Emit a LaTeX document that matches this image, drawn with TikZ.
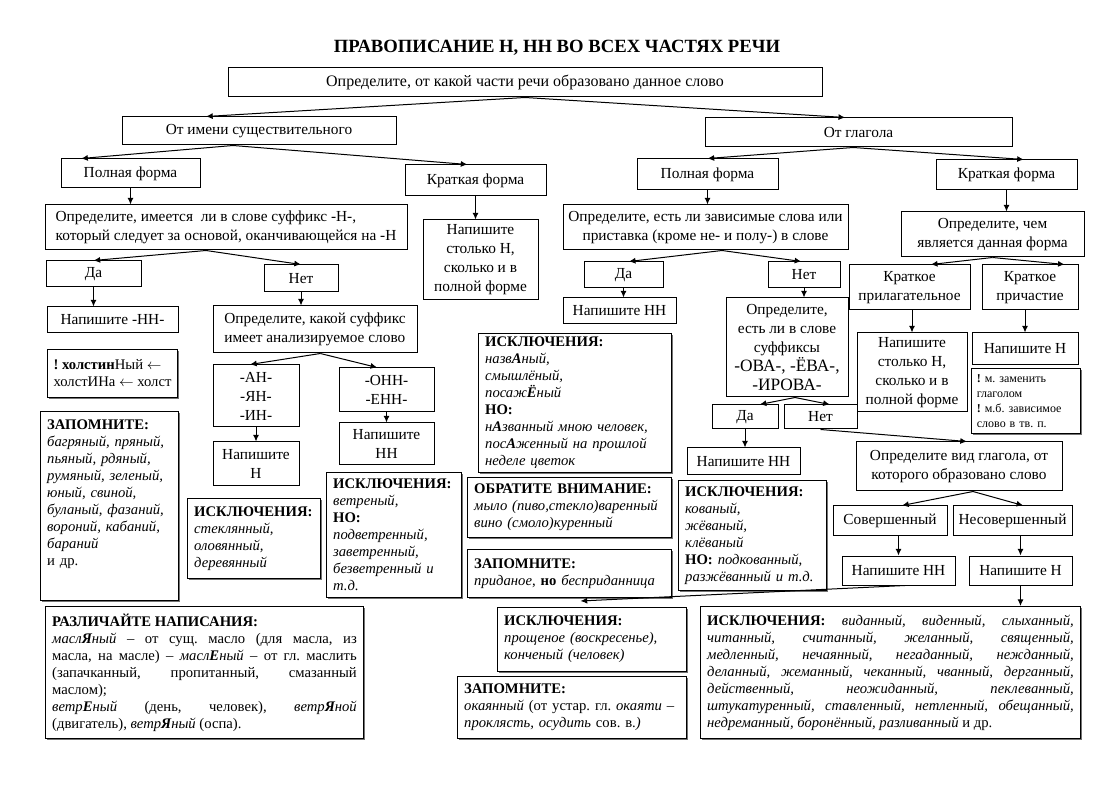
\documentclass[tikz,border=0pt]{standalone}
\usepackage{fontspec}
\setmainfont{Liberation Serif}
\usetikzlibrary{arrows.meta,shadows}
\newcommand{\flowfont}{\fontsize{11.5}{14.25}\selectfont}
\newcommand{\notefont}{\fontsize{11}{12.75}\selectfont}
\newcommand{\tinynote}{\fontsize{9}{11.25}\selectfont}

\begin{document}
\frenchspacing
\begin{tikzpicture}[x=0.75pt,y=-0.75pt,
    box/.style={draw, line width=0.75pt, inner sep=2pt, align=center, font=\flowfont},
    note/.style={draw, fill=white, line width=0.75pt, anchor=north west, align=left,
        inner xsep=5pt, inner ysep=2pt, font=\notefont,
        drop shadow={shadow xshift=1pt, shadow yshift=-1pt, fill=black!55, opacity=1}},
    arr/.style={-{Latex[length=5pt,width=4.5pt]}, line width=0.75pt}]
    \useasboundingbox (0,0) rectangle (1118,791);

    \node (0) at (557,48) {\fontsize{14}{16}\selectfont\bfseries ПРАВОПИСАНИЕ Н, НН ВО ВСЕХ ЧАСТЯХ РЕЧИ};
    \node[box, font=\fontsize{12}{14.25}\selectfont, minimum width=445.5pt, minimum height=21.75pt] (1) at (525,82.5) {Определите, от какой части речи образовано данное слово};
    \node[box, minimum width=205.5pt, minimum height=21pt] (2) at (259,131) {От имени существительного};
    \node[box, minimum width=230.25pt, minimum height=21.75pt] (3) at (858.5,132.5) {От глагола};

    % имя существительное
    \node[box, minimum width=104.25pt, minimum height=21.75pt] (4) at (130.5,173.5) {Полная форма};
    \node[box, minimum width=105.75pt, minimum height=23.25pt] (5) at (475.5,180.5) {Краткая форма};
    \node[box, align=left, minimum width=271.5pt, minimum height=33.75pt] (6) at (226,227.5) {Определите, имеется\ \ ли в слове суффикс -Н-,\\который следует за основой, оканчивающейся на -Н};
    \node[box, minimum width=86.25pt, minimum height=60pt] (7) at (480.5,260) {Напишите\\столько Н,\\сколько и в\\полной форме};
    \node[box, minimum width=71.25pt, minimum height=19.5pt] (8) at (93.5,274) {Да};
    \node[box, minimum width=55.5pt, minimum height=20.25pt] (9) at (301,278.5) {Нет};
    \node[box, minimum width=98.25pt, minimum height=19.5pt] (10) at (112.5,320) {Напишите -НН-};
    \node[box, align=left, minimum width=153pt, minimum height=35.25pt] (11) at (315,329.5) {Определите, какой суффикс\\имеет анализируемое слово};
    \node[note, inner xsep=3pt, minimum width=97.5pt, minimum height=36pt] (12) at (47,349) {\textbf{! холстин}Ный $\leftarrow$\\холстИНа $\leftarrow$ холст};
    \node[box, minimum width=64.5pt, minimum height=46.5pt] (13) at (256,396) {-АН-\\-ЯН-\\-ИН-};
    \node[box, minimum width=71.25pt, minimum height=33pt] (14) at (386.5,390) {-ОНН-\\-ЕНН-};
    \node[box, minimum width=64.5pt, minimum height=33pt] (15) at (256,464) {Напишите\\Н};
    \node[box, minimum width=71.25pt, minimum height=31.5pt] (16) at (386.5,444) {Напишите\\НН};
    \node[note, text width=93.5pt, minimum height=141.75pt] (17) at (40,411) {\textbf{ЗАПОМНИТЕ:}\\\itshape багряный, пряный,\\пьяный, рдяный,\\румяный, зеленый,\\юный, свиной,\\буланый, фазаний,\\вороний, кабаний,\\бараний\\\upshape и др.\\[7pt]\mbox{}};
    \node[note, text width=89.75pt, minimum height=60pt] (18) at (187,498) {\textbf{ИСКЛЮЧЕНИЯ:}\\\itshape стеклянный,\\оловянный,\\деревянный};
    \node[note, text width=91.25pt, minimum height=93.75pt] (19) at (326,472) {\textbf{ИСКЛЮЧЕНИЯ:}\\\textit{ветреный,}\\\textbf{НО:}\\\itshape подветренный,\\заветренный,\\безветренный и\\т.д.};
    \node[note, align=justify, text width=228.5pt, minimum height=99pt] (20) at (45,606) {\textbf{РАЗЛИЧАЙТЕ НАПИСАНИЯ:}\\\textit{масл\textbf{Я}ный} – от сущ. масло (для масла, из\linebreak масла, на масле) – \textit{масл\textbf{Е}ный} – от гл. маслить\linebreak (запачканный, пропитанный, смазанный\linebreak маслом);\\\textit{ветр\textbf{Е}ный} (день, человек), \textit{ветр\textbf{Я}ной}\linebreak (двигатель), \textit{ветр\textbf{Я}ный} (оспа).};

    % глагол
    \node[box, minimum width=105.75pt, minimum height=23.25pt] (21) at (707.5,174.5) {Полная форма};
    \node[box, minimum width=105.75pt, minimum height=22.5pt] (22) at (1006.5,175) {Краткая форма};
    \node[box, minimum width=213.75pt, minimum height=33.75pt] (23) at (705.5,227.5) {Определите, есть ли зависимые слова или\\приставка (кроме не- и полу-) в слове};
    \node[box, minimum width=137.25pt, minimum height=33.75pt] (24) at (992.5,234.5) {Определите, чем\\является данная форма};
    \node[box, minimum width=59.25pt, minimum height=19.5pt] (25) at (623.5,275) {Да};
    \node[box, minimum width=54pt, minimum height=19.5pt] (26) at (804,275) {Нет};
    \node[box, minimum width=90.75pt, minimum height=33.75pt] (27) at (909.5,287.5) {Краткое\\прилагательное};
    \node[box, minimum width=72pt, minimum height=33.75pt] (28) at (1030,287.5) {Краткое\\причастие};
    \node[box, minimum width=84.75pt, minimum height=19.5pt] (29) at (619.5,311) {Напишите НН};
    \node[box, minimum width=91.5pt, minimum height=74.25pt] (30) at (787,347.5) {Определите,\\есть ли в слове\\суффиксы\\{\fontsize{13}{14.5}\selectfont -ОВА-, -ЁВА-,}\\{\fontsize{13}{14.5}\selectfont -ИРОВА-}};
    \node[box, minimum width=82.5pt, minimum height=59.25pt] (31) at (912,372.5) {Напишите\\столько Н,\\сколько и в\\полной форме};
    \node[box, minimum width=79.5pt, minimum height=24pt] (32) at (1025,349) {Напишите Н};
    \node[note, font=\tinynote, inner xsep=4pt, text width=73.75pt, minimum height=48.75pt] (33) at (971,368) {\textbf{!} м. заменить\\глаголом\\\textbf{!} м.б. зависимое\\слово в тв. п.};
    \node[box, minimum width=49.5pt, minimum height=18pt] (34) at (745,417) {Да};
    \node[box, minimum width=54.75pt, minimum height=18pt] (35) at (820.5,417) {Нет};
    \node[box, minimum width=84.75pt, minimum height=20.25pt] (36) at (743.5,461.5) {Напишите НН};
    \node[box, minimum width=154.5pt, minimum height=36.75pt] (37) at (959,466.5) {Определите вид глагола, от\\которого образовано слово};
    \node[note, text width=134.75pt, minimum height=104.25pt] (38) at (478,333) {\textbf{ИСКЛЮЧЕНИЯ:}\\\textit{назв\textbf{А}ный,}\\\textit{смышлёный,}\\\textit{посаж\textbf{Ё}ный}\\\textbf{НО:}\\\textit{н\textbf{А}званный мною человек,}\\\textit{пос\textbf{А}женный на прошлой}\\\textit{неделе цветок}};
    \node[note, text width=143pt, minimum height=45pt] (39) at (467,477) {\textbf{ОБРАТИТЕ ВНИМАНИЕ:}\\\itshape мыло (пиво,стекло)варенный\\вино (смоло)куренный};
    \node[note, text width=143pt, minimum height=36pt] (40) at (467,549) {\textbf{ЗАПОМНИТЕ:}\\\textit{приданое}, \textbf{но} \textit{бесприданница}};
    \node[note, text width=101pt, minimum height=82.5pt] (41) at (678,480) {\textbf{ИСКЛЮЧЕНИЯ:}\\\textit{кованый,}\\\textit{жёваный,}\\\textit{клёваный}\\\textbf{НО:} \textit{подкованный,}\\\textit{разжёванный и т.д.}};
    \node[box, minimum width=85.5pt, minimum height=22.5pt] (42) at (890,521) {Совершенный};
    \node[box, minimum width=89.25pt, minimum height=22.5pt] (43) at (1012.5,521) {Несовершенный};
    \node[box, minimum width=84.75pt, minimum height=21.75pt] (44) at (898.5,570.5) {Напишите НН};
    \node[box, minimum width=77.25pt, minimum height=21.75pt] (45) at (1020.5,570.5) {Напишите Н};
    \node[note, text width=131.75pt, minimum height=48pt] (46) at (497,607) {\textbf{ИСКЛЮЧЕНИЯ:}\\\itshape прощеное (воскресенье),\\конченый (человек)};
    \node[note, text width=161.75pt, minimum height=46.5pt] (47) at (457,676) {\textbf{ЗАПОМНИТЕ:}\\\textit{окаянный} (от устар. гл. \textit{окаяти –}\\\textit{проклясть, осудить} сов. в.\textit{)}};
    \node[note, align=justify, text width=275pt, minimum height=99pt] (48) at (700,606) {\textbf{ИСКЛЮЧЕНИЯ:} \textit{виданный, виденный, слыханный,}\linebreak \textit{читанный, считанный, желанный, священный,}\linebreak \textit{медленный, нечаянный, негаданный, нежданный,}\linebreak \textit{деланный, жеманный, чеканный, чванный, дерганный,}\linebreak \textit{действенный, неожиданный, пеклеванный,}\linebreak \textit{штукатуренный, ставленный, нетленный, обещанный,}\linebreak \textit{недреманный, боронённый, разливанный} и др.};

    \path[arr]
	(1.south) edge ([xshift=-39.75pt]2.north)
	(1.south) edge ([xshift=-10pt]3.north)
	([xshift=-19.5pt]2.south) edge ([xshift=-37pt]4.north)
	([xshift=-19.5pt]2.south) edge ([xshift=-6pt]5.north)
	(4.south) edge (4.south |- 6.north)
	(5.south) edge (5.south |- 7.north)
	([xshift=-15pt]6.south) edge (8.north)
	([xshift=-15pt]6.south) edge (9.north)
	(8.south) edge (8.south |- 10.north)
	(9.south) edge (9.south |- 11.north)
	([xshift=4pt]11.south) edge ([xshift=-4.5pt]13.north)
	([xshift=4pt]11.south) edge ([xshift=-7pt]14.north)
	(13.south) edge (15.north)
	(14.south) edge (16.north)
	([xshift=-4pt]3.south) edge (21.north)
	([xshift=-4pt]3.south) edge ([xshift=13pt]22.north)
	(21.south) edge (21.south |- 23.north)
	(22.south) edge (22.south |- 24.north)
	([xshift=12.4pt]23.south) edge ([xshift=4pt]25.north)
	([xshift=12.4pt]23.south) edge ([xshift=-2pt]26.north)
	(24.south) edge ([xshift=16pt]27.north)
	(24.south) edge ([xshift=26pt]28.north)
	(25.south) edge (25.south |- 29.north)
	(26.south) edge (26.south |- 30.north)
	(31.north |- 27.south) edge (31.north)
	(32.north |- 28.south) edge (32.north)
	([xshift=6pt]30.south) edge ([xshift=11pt]34.north)
	([xshift=6pt]30.south) edge ([xshift=7pt]35.north)
	(34.south) edge (34.south |- 36.north)
	(35.south) edge ([xshift=6pt]37.north)
	([xshift=10.5pt]37.south) edge ([xshift=9pt]42.north)
	([xshift=10.5pt]37.south) edge ([xshift=8pt]43.north)
	(44.north |- 42.south) edge (44.north)
	(45.north |- 43.south) edge (45.north)
	(45.south) edge (45.south |- 48.north)
	([xshift=5pt]44.south) edge ([xshift=-8.6pt,yshift=4.5pt]46.north);
\end{tikzpicture}
\end{document}
